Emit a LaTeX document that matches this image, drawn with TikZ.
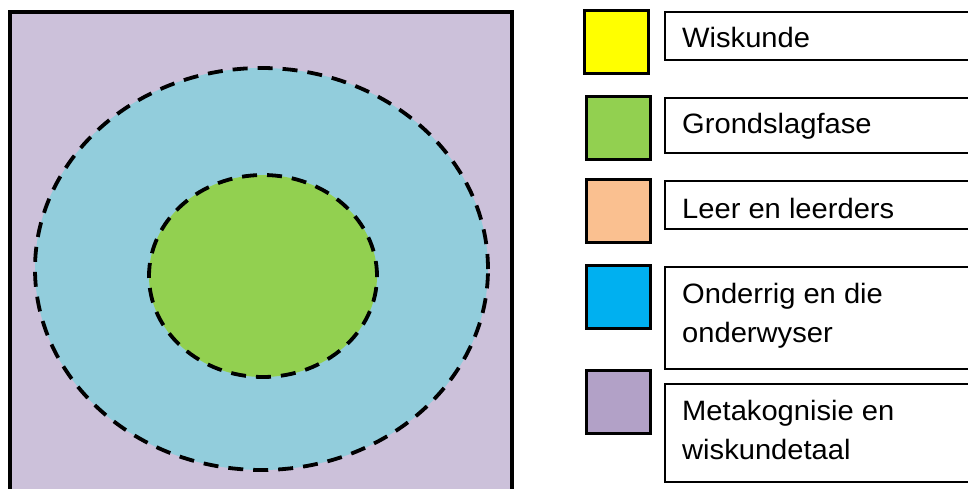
\documentclass[tikz,border=0pt]{standalone}
\usepackage{fontspec}
\setmainfont{Liberation Sans}[FakeStretch=1.04]
\usetikzlibrary{shapes.geometric}
\definecolor{bgpurple}{HTML}{CCC1DA}
\definecolor{ringblue}{HTML}{92CDDC}
\definecolor{coregreen}{HTML}{92D050}
\definecolor{keyyellow}{HTML}{FFFF00}
\definecolor{keygreen}{HTML}{92D050}
\definecolor{keyorange}{HTML}{FAC090}
\definecolor{keyblue}{HTML}{00B0F0}
\definecolor{keypurple}{HTML}{B2A1C7}
\tikzset{
  ring/.style={ellipse, draw=black, line width=3.8pt, dash pattern=on 15pt off 10pt, inner sep=0pt},
  swatch/.style={draw=black, line width=3pt, minimum width=64pt, minimum height=63pt, inner sep=0pt},
  keybox/.style={draw=black, line width=2pt, fill=white, anchor=north west, minimum width=340pt, inner sep=0pt},
  keytext/.style={anchor=base west, inner sep=0pt, align=left, font=\fontsize{28}{39}\selectfont}
}
\begin{document}
\begin{tikzpicture}[x=1pt,y=-1pt]
\useasboundingbox (0,0) rectangle (968,489);
\clip (0,0) rectangle (968,489);
\fill[white] (0,0) rectangle (968,489);
% main square
\node[draw=black, line width=4pt, fill=bgpurple, anchor=north west, minimum width=502pt, minimum height=540pt, inner sep=0pt] (frame) at (8,10) {};
% rings
\node[ring, fill=ringblue, minimum width=453pt, minimum height=402pt] (outer) at (261.5,269) {};
\node[ring, fill=coregreen, minimum width=228pt, minimum height=202pt] (inner) at (263,276) {};
% legend swatches
\node[swatch, fill=keyyellow] (s1) at (616.5,42) {};
\node[swatch, fill=keygreen] (s2) at (618.5,128) {};
\node[swatch, fill=keyorange] (s3) at (618,211) {};
\node[swatch, fill=keyblue] (s4) at (618,297) {};
\node[swatch, fill=keypurple] (s5) at (618,402) {};
% legend boxes
\node[keybox, minimum height=48pt] (b1) at (664,11) {};
\node[keybox, minimum height=55pt] (b2) at (664,97) {};
\node[keybox, minimum height=48pt] (b3) at (664,180) {};
\node[keybox, minimum height=102pt] (b4) at (664,266) {};
\node[keybox, minimum height=98pt] (b5) at (664,383) {};
% legend texts
\node[keytext] (t1) at (682,47.5) {Wiskunde};
\node[keytext] (t2) at (682,133.5) {Grondslagfase};
\node[keytext] (t3) at (682,218) {Leer en leerders};
\node[keytext] (t4) at (682,342) {Onderrig en die\\onderwyser};
\node[keytext] (t5) at (682,459) {Metakognisie en\\wiskundetaal};
\end{tikzpicture}
\end{document}
